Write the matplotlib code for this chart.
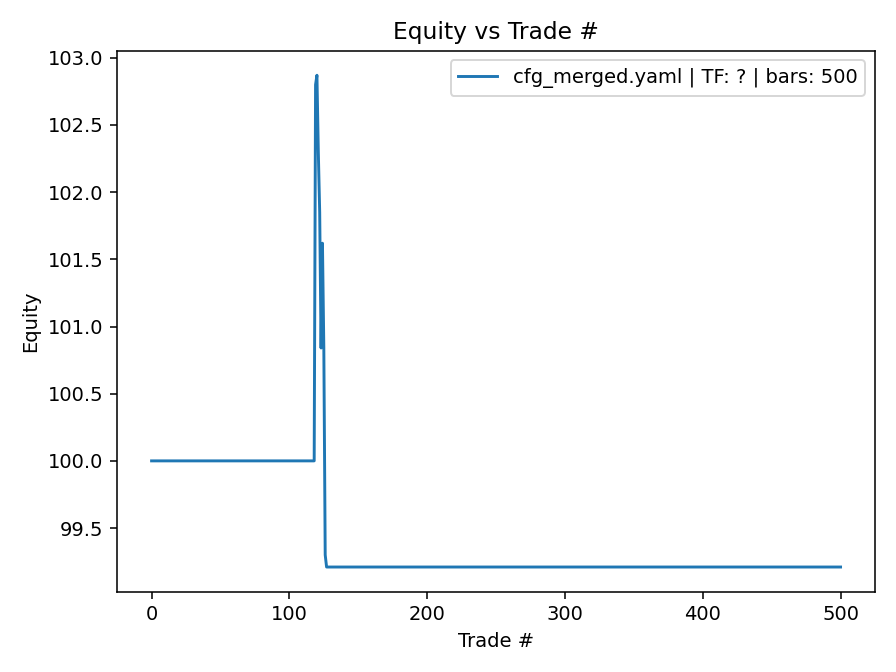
import numpy as np
import matplotlib
matplotlib.use("Agg")
from matplotlib import pyplot as plt

# equity values, trade index 0..500
n_trades = 501
flat_start = 100.0
spike = [102.80, 102.87, 102.30, 101.85, 100.84, 101.62, 100.84, 99.30]
spike_start = 119
flat_end = 99.21
label = "cfg_merged.yaml | TF: ? | bars: 500"

equity = [flat_start] * spike_start + spike
equity = equity + [flat_end] * (n_trades - len(equity))
trades = np.arange(n_trades)

fig = plt.figure(figsize=(6.4, 4.8), dpi=140)
ax = fig.add_subplot(111)
ax.plot(trades, equity, "-", label=label)
ax.set_title("Equity vs Trade #")
ax.set_xlabel("Trade #")
ax.set_ylabel("Equity")
ax.legend(loc="upper right")
fig.tight_layout()
fig.savefig("out.png")
